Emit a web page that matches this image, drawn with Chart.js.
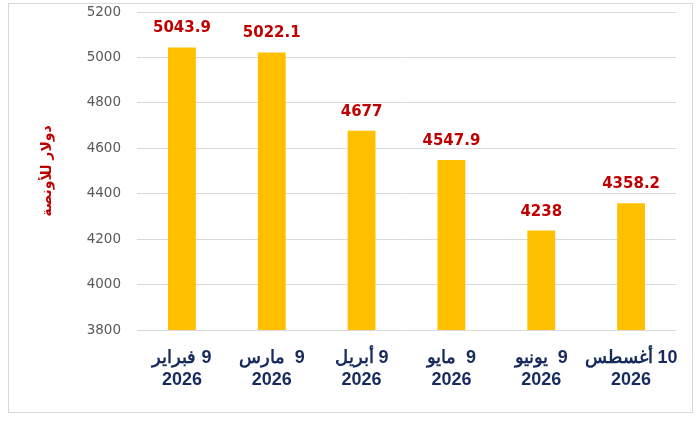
<!DOCTYPE html>
<html>
<head>
<meta charset="utf-8">
<script src="https://cdn.jsdelivr.net/npm/chart.js@4.4.1/dist/chart.umd.min.js"></script>
<style>
  html, body { margin: 0; padding: 0; background: #ffffff; }
  #wrap { position: relative; width: 700px; height: 423px; }
  #frame { position: absolute; left: 8px; top: 3px; width: 683px; height: 408px; border: 1px solid #d9d9d9; pointer-events: none; }
  canvas { position: absolute; left: 0; top: 0; }
</style>
</head>
<body>
<div id="wrap">
  <div id="frame"></div>
  <canvas id="c" width="700" height="423" dir="rtl"></canvas>
</div>
<script>
const categories = [
  ["9 فبراير", "2026"],
  ["9  مارس", "2026"],
  ["9 أبريل", "2026"],
  ["9  مايو", "2026"],
  ["9  يونيو", "2026"],
  ["10 أغسطس", "2026"]
];
const prices = [5043.9, 5022.1, 4677, 4547.9, 4238, 4358.2];
const yTitle = "دولار للأونصة";
const yMin = 3800, yMax = 5200, yStep = 200;

const valueLabels = {
  id: 'valueLabels',
  afterDatasetsDraw(chart) {
    const ctx = chart.ctx;
    const meta = chart.getDatasetMeta(0);
    ctx.save();
    ctx.font = 'bold 15px "DejaVu Sans"';
    ctx.fillStyle = '#C00000';
    ctx.textAlign = 'center';
    ctx.textBaseline = 'alphabetic';
    meta.data.forEach((bar, i) => {
      ctx.fillText(String(chart.data.datasets[0].data[i]), bar.x, bar.y - 15);
    });
    ctx.restore();
  }
};

new Chart(document.getElementById('c'), {
  type: 'bar',
  data: {
    labels: categories,
    datasets: [{
      data: prices,
      backgroundColor: '#FFC000',
      borderWidth: 0,
      barPercentage: 0.31,
      categoryPercentage: 1
    }]
  },
  options: {
    responsive: false,
    animation: false,
    devicePixelRatio: 1,
    layout: { padding: { left: 8, right: 24, top: 12, bottom: 1 } },
    plugins: { legend: { display: false }, tooltip: { enabled: false } },
    scales: {
      x: {
        grid: { display: false },
        border: { display: false },
        ticks: {
          color: '#172B5E',
          font: { family: '"Liberation Sans", Arial, sans-serif', size: 18, weight: 'bold', lineHeight: 1.17 },
          padding: 10,
          maxRotation: 0,
          autoSkip: false
        },
        afterFit(s) { s.height = 92; }
      },
      y: {
        min: yMin,
        max: yMax,
        border: { display: false },
        grid: { color: '#d9d9d9', lineWidth: 1, drawTicks: false },
        ticks: {
          stepSize: yStep,
          color: '#595959',
          padding: 16,
          font: { family: '"DejaVu Sans"', size: 13.5 },
          callback: (v) => String(v)
        },
        title: {
          display: true,
          text: yTitle,
          color: '#C00000',
          font: { family: '"DejaVu Sans"', size: 14, weight: 'bold' },
          padding: { top: 31, bottom: 0 }
        },
        afterFit(s) { s.width = 129; s.paddingTop = 0; s.paddingBottom = 0; }
      }
    }
  },
  plugins: [valueLabels]
});
</script>
</body>
</html>
